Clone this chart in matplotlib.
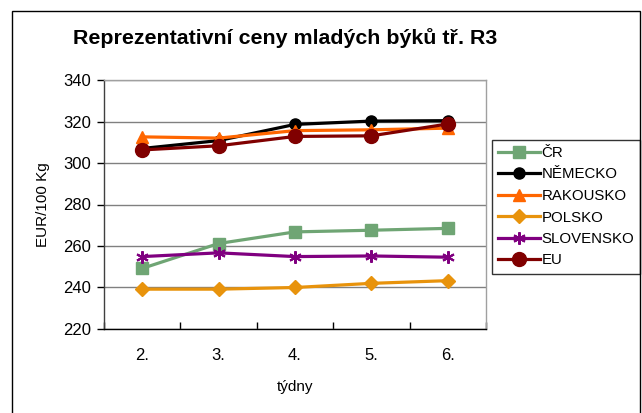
import matplotlib

matplotlib.use("Agg")
import matplotlib.pyplot as plt
from matplotlib.patches import Rectangle

plt.rcParams["font.family"] = ["Liberation Sans", "DejaVu Sans"]

weeks = ["2.", "3.", "4.", "5.", "6."]
cr = [249.2, 261.2, 266.8, 267.6, 268.5]
nemecko = [307.0, 310.8, 318.6, 320.2, 320.4]
rakousko = [312.6, 312.0, 315.6, 316.0, 316.8]
polsko = [239.2, 239.2, 240.0, 242.0, 243.3]
slovensko = [254.9, 256.7, 254.9, 255.2, 254.6]
eu = [306.3, 308.3, 312.8, 313.1, 318.8]

series = [
    ("ČR", cr, "#6FA574", "s", 8),
    ("NĚMECKO", nemecko, "#000000", "o", 8),
    ("RAKOUSKO", rakousko, "#FF6600", "^", 9),
    ("POLSKO", polsko, "#E8930C", "D", 7),
    ("SLOVENSKO", slovensko, "#800080", "x", 9),
    ("EU", eu, "#800000", "o", 10),
]

fig = plt.figure(figsize=(6.42, 4.13), dpi=100)
fig.patches.append(Rectangle((12 / 642, -0.01), 628 / 642, 1 - 11 / 413 + 0.01,
                             transform=fig.transFigure, fill=False,
                             edgecolor="black", linewidth=1.0))

ax = fig.add_axes([104 / 642, (413 - 329) / 413, 382 / 642, 249 / 413])
x = list(range(len(weeks)))
for name, vals, color, marker, ms in series:
    if marker == "x":
        ax.plot(x, vals, color=color, linewidth=2.3, marker=(6, 2, 0),
                markersize=ms, markeredgewidth=1.5, label=name)
    else:
        ax.plot(x, vals, color=color, linewidth=2.3, marker=marker,
                markersize=ms, label=name)

ax.set_xlim(-0.5, 4.5)
ax.set_ylim(220, 340)
ax.set_yticks(range(220, 341, 20))
ax.yaxis.grid(True, color="#808080", linewidth=1)
ax.set_axisbelow(True)

ax.set_xticks([i - 0.5 for i in range(6)])
ax.set_xticklabels([])
ax.set_xticks(x, minor=True)
ax.set_xticklabels(weeks, minor=True)
ax.tick_params(axis="x", which="major", direction="in", length=5, width=1)
ax.tick_params(axis="x", which="minor", length=0, pad=14, labelsize=12)
ax.tick_params(axis="y", direction="out", length=5, width=1, labelsize=12, pad=4)

ax.spines["bottom"].set_color("black")
ax.spines["left"].set_color("#404040")
ax.spines["top"].set_color("#A0A0A0")
ax.spines["right"].set_color("#A0A0A0")
for s in ax.spines.values():
    s.set_linewidth(1)

ax.set_xlabel("týdny", fontsize=11, labelpad=12)
ax.set_ylabel("EUR/100 Kg", fontsize=11, labelpad=10)

fig.text(73 / 642, 1 - 38 / 413, "Reprezentativní ceny mladých býků tř. R3",
         fontsize=15.4, fontweight="bold", va="center", ha="left")

leg = ax.legend(loc="upper left", bbox_to_anchor=(492 / 642, 1 - 140 / 413),
                bbox_transform=fig.transFigure, frameon=True, fancybox=False,
                edgecolor="black", fontsize=10.8, handlelength=2.8,
                handletextpad=0.1, labelspacing=0.5, borderpad=0.4,
                borderaxespad=0)
leg.get_frame().set_linewidth(1)

fig.savefig("out.png", dpi=100)
